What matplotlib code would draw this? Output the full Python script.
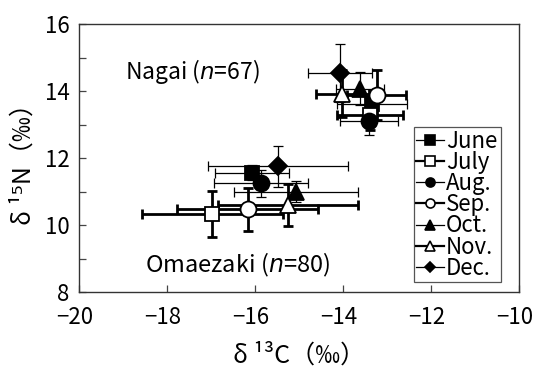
import matplotlib.pyplot as plt
import matplotlib.transforms as mtransforms
from matplotlib.lines import Line2D

plt.rcParams['font.family'] = ['Noto Sans CJK JP', 'DejaVu Sans']

months = ["June", "July", "Aug.", "Sep.", "Oct.", "Nov.", "Dec."]

# Nagai (n=67)
nagai_c = [-13.34, -13.39, -13.41, -13.23, -13.62, -14.02, -14.07]
nagai_n = [13.61, 13.28, 13.10, 13.88, 14.07, 13.92, 14.53]
nagai_cerr = [0.80, 0.75, 0.65, 0.67, 0.55, 0.60, 0.73]
nagai_nerr = [0.30, 0.45, 0.42, 0.75, 0.50, 0.70, 0.87]

# Omaezaki (n=80)
omae_c = [-16.07, -16.97, -15.86, -16.17, -15.07, -15.25, -15.48]
omae_n = [11.56, 10.33, 11.25, 10.47, 11.00, 10.60, 11.75]
omae_cerr = [0.84, 1.60, 1.07, 1.60, 1.40, 1.59, 1.60]
omae_nerr = [0.22, 0.68, 0.40, 0.64, 0.31, 0.63, 0.62]

markers = ['s', 's', 'o', 'o', '^', '^', 'D']
faces = ['black', 'white', 'black', 'white', 'black', 'white', 'black']
msizes = [10.5, 10.5, 11.5, 11.5, 11.5, 11.5, 9]

fig = plt.figure(figsize=(5.35, 3.77), dpi=100)
ax = fig.add_axes([0.148, 0.2255, 0.822, 0.7105])

for i in range(len(months)):
    open_marker = faces[i] == 'white'
    lw = 2.0 if open_marker else 0.9
    for xs, ys, xe, ye in [(nagai_c, nagai_n, nagai_cerr, nagai_nerr),
                           (omae_c, omae_n, omae_cerr, omae_nerr)]:
        ax.errorbar(xs[i], ys[i], xerr=xe[i], yerr=ye[i], fmt='none',
                    ecolor='black', elinewidth=lw, capsize=3.5, capthick=lw,
                    zorder=2)
        ax.plot(xs[i], ys[i], linestyle='none', marker=markers[i],
                markersize=msizes[i], markerfacecolor=faces[i],
                markeredgecolor='black', markeredgewidth=1.3, zorder=3)

handles = []
for i, m in enumerate(months):
    lw = 1.6 if faces[i] == 'white' else 0.9
    handles.append(Line2D([], [], color='black', lw=lw, marker=markers[i],
                          markersize=6.5 if markers[i] != 'D' else 5.5,
                          markerfacecolor=faces[i], markeredgecolor='black',
                          markeredgewidth=1.2, label=m))
leg = ax.legend(handles=handles, loc='lower left',
                bbox_to_anchor=(0.761, 0.037, 0.198, 0.582), mode='expand',
                fontsize=16, handlelength=1.25, handletextpad=0.1,
                labelspacing=-0.08, borderpad=0.1, borderaxespad=0,
                fancybox=False, framealpha=1)
leg.get_frame().set_edgecolor('#555555')
leg.get_frame().set_linewidth(0.9)

ax.text(-18.95, 14.6, r"Nagai ($n$=67)", fontsize=16.5, va='center', ha='left')
ax.text(-18.5, 8.8, r"Omaezaki ($n$=80)", fontsize=17, va='center', ha='left')

ax.set_xlim(-20, -10)
ax.set_ylim(8, 16)
ax.set_xticks([-20, -18, -16, -14, -12, -10])
ax.set_yticks([8, 10, 12, 14, 16])
ax.set_yticks([9, 11, 13, 15], minor=True)
ax.tick_params(axis='both', which='both', direction='in', labelsize=16,
               width=0.9, color='#444444')
ax.tick_params(axis='x', pad=10)
ax.tick_params(axis='y', pad=7)
ax.tick_params(which='major', length=5)
ax.tick_params(which='minor', length=5)
for s in ax.spines.values():
    s.set_linewidth(1.0)
    s.set_color('#333333')

# x tick labels sit a little left of their ticks, as in the original
shift = mtransforms.ScaledTranslation(-3 / 72, 0, fig.dpi_scale_trans)
for lab in ax.get_xticklabels():
    lab.set_transform(lab.get_transform() + shift)

ax.set_xlabel("δ ¹³C（‰）", fontsize=18, labelpad=10)
ax.set_ylabel("δ ¹⁵N（‰）", fontsize=18, labelpad=6)

fig.savefig("out.png", dpi=100)
